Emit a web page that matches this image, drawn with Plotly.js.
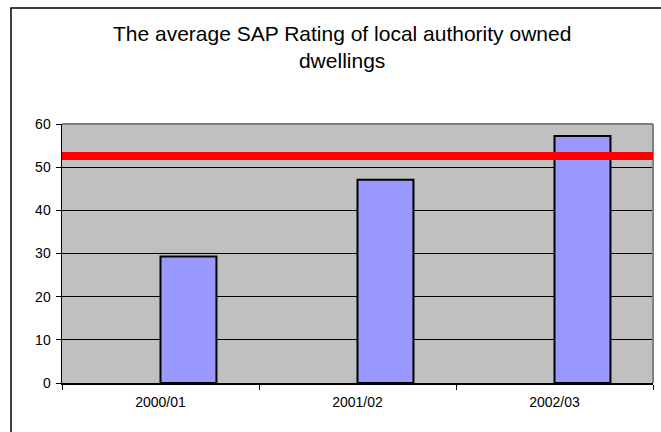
<!DOCTYPE html>
<html>
<head>
<meta charset="utf-8">
<script src="https://cdn.plot.ly/plotly-3.0.1.min.js"></script>
<style>html,body{margin:0;padding:0;background:#fff;}#chart{width:661px;height:432px;}</style>
</head>
<body>
<div id="chart"></div>
<script>
const titleText = "The average SAP Rating of local authority owned<br>dwellings";
const categories = ["2000/01", "2001/02", "2002/03"];
const sapRatings = [29.3, 47.1, 57.2];
const targetValue = 52.6;
const yTickValues = [0, 10, 20, 30, 40, 50, 60];

const trace = {
  type: "bar",
  x: categories,
  y: sapRatings,
  width: 0.284,
  offset: 0,
  marker: {color: "#9999ff", line: {color: "#000000", width: 2}},
  hoverinfo: "x+y"
};

const layout = {
  width: 661, height: 432,
  margin: {l: 62, r: 8, t: 124, b: 49, pad: 0},
  paper_bgcolor: "#ffffff",
  plot_bgcolor: "#c0c0c0",
  showlegend: false,
  font: {family: "Liberation Sans, Arial, sans-serif", color: "#000000", size: 14},
  title: {
    text: titleText,
    font: {family: "Liberation Sans, Arial, sans-serif", size: 21, color: "#000000"},
    xref: "paper", x: 0.474, xanchor: "center",
    yref: "container", y: 0.905, yanchor: "top"
  },
  xaxis: {
    type: "category",
    range: [-0.5, 2.5],
    tickson: "boundaries",
    ticks: "outside", ticklen: 5, tickcolor: "#000000", tickwidth: 1,
    ticklabelstandoff: 6,
    showgrid: false, zeroline: false,
    showline: true, linecolor: "#000000", linewidth: 1.5,
    tickfont: {size: 14}
  },
  yaxis: {
    range: [0, 60],
    tickvals: yTickValues,
    ticks: "outside", ticklen: 5, tickcolor: "#000000", tickwidth: 1,
    ticklabelstandoff: 2,
    showgrid: true, gridcolor: "#000000", gridwidth: 1,
    zeroline: false,
    showline: true, linecolor: "#000000", linewidth: 1.5,
    tickfont: {size: 14}
  },
  shapes: [
    {type: "line", xref: "paper", yref: "paper", x0: 0, x1: 1, y0: 1, y1: 1, line: {color: "#808080", width: 2}, layer: "above"},
    {type: "line", xref: "paper", yref: "paper", x0: 1, x1: 1, y0: 0, y1: 1, line: {color: "#808080", width: 2}, layer: "above"},
    {type: "line", xref: "paper", yref: "y", x0: 0, x1: 1, y0: targetValue, y1: targetValue, line: {color: "#ff0000", width: 8}, layer: "above"},
    {type: "rect", xref: "paper", yref: "paper", x0: -0.0863, x1: 1.05, y0: -0.25, y1: 1.448, line: {color: "#000000", width: 1.5}, fillcolor: "rgba(0,0,0,0)", layer: "above"}
  ]
};

Plotly.newPlot("chart", [trace], layout, {staticPlot: true, displayModeBar: false});
</script>
</body>
</html>
